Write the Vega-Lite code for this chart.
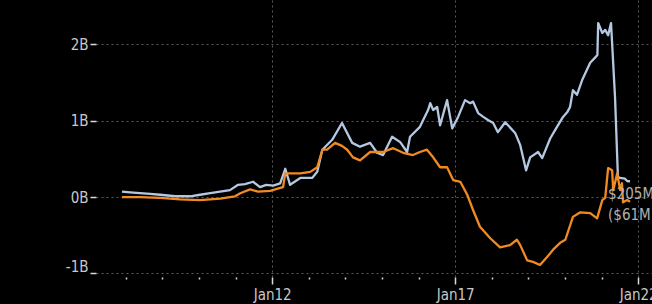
{
  "$schema": "https://vega.github.io/schema/vega-lite/v6.json",
  "width": 556,
  "height": 277,
  "autosize": {"type": "none"},
  "padding": {"left": 96, "top": 0, "right": 0, "bottom": 27},
  "background": "#000000",
  "config": {
    "view": {"stroke": null},
    "axis": {
      "labelFont": "DejaVu Sans Condensed",
      "labelFontSize": 15,
      "labelColor": "#c8c8c8",
      "domain": false,
      "gridColor": "#5a5a5a",
      "gridDash": [2, 3],
      "gridWidth": 1,
      "tickColor": "#d8d8d8",
      "title": null
    }
  },
  "datasets": {
    "series": [
      {"date": "2007-11-24", "series": "Total", "value": 0.07},
      {"date": "2008-02-14", "series": "Total", "value": 0.06},
      {"date": "2008-05-22", "series": "Total", "value": 0.05},
      {"date": "2008-09-01", "series": "Total", "value": 0.04},
      {"date": "2008-12-09", "series": "Total", "value": 0.03},
      {"date": "2009-05-08", "series": "Total", "value": 0.01},
      {"date": "2009-10-05", "series": "Total", "value": 0.01},
      {"date": "2010-01-12", "series": "Total", "value": 0.03},
      {"date": "2010-04-23", "series": "Total", "value": 0.05},
      {"date": "2010-07-31", "series": "Total", "value": 0.07},
      {"date": "2010-11-06", "series": "Total", "value": 0.09},
      {"date": "2011-01-26", "series": "Total", "value": 0.16},
      {"date": "2011-04-05", "series": "Total", "value": 0.17},
      {"date": "2011-06-25", "series": "Total", "value": 0.2},
      {"date": "2011-09-02", "series": "Total", "value": 0.13},
      {"date": "2011-11-03", "series": "Total", "value": 0.16},
      {"date": "2012-01-12", "series": "Total", "value": 0.15},
      {"date": "2012-03-21", "series": "Total", "value": 0.18},
      {"date": "2012-05-11", "series": "Total", "value": 0.37},
      {"date": "2012-06-28", "series": "Total", "value": 0.16},
      {"date": "2012-10-08", "series": "Total", "value": 0.25},
      {"date": "2013-02-03", "series": "Total", "value": 0.25},
      {"date": "2013-03-26", "series": "Total", "value": 0.33},
      {"date": "2013-05-16", "series": "Total", "value": 0.62},
      {"date": "2013-08-22", "series": "Total", "value": 0.75},
      {"date": "2013-11-28", "series": "Total", "value": 0.97},
      {"date": "2014-03-10", "series": "Total", "value": 0.71},
      {"date": "2014-05-27", "series": "Total", "value": 0.66},
      {"date": "2014-09-05", "series": "Total", "value": 0.71},
      {"date": "2014-11-13", "series": "Total", "value": 0.58},
      {"date": "2015-01-12", "series": "Total", "value": 0.55},
      {"date": "2015-04-12", "series": "Total", "value": 0.79},
      {"date": "2015-07-02", "series": "Total", "value": 0.72},
      {"date": "2015-09-09", "series": "Total", "value": 0.59},
      {"date": "2015-10-08", "series": "Total", "value": 0.79},
      {"date": "2016-01-15", "series": "Total", "value": 0.92},
      {"date": "2016-04-05", "series": "Total", "value": 1.14},
      {"date": "2016-04-27", "series": "Total", "value": 1.23},
      {"date": "2016-05-26", "series": "Total", "value": 1.14},
      {"date": "2016-07-05", "series": "Total", "value": 1.18},
      {"date": "2016-08-03", "series": "Total", "value": 0.94},
      {"date": "2016-10-12", "series": "Total", "value": 1.27},
      {"date": "2016-12-02", "series": "Total", "value": 0.9},
      {"date": "2017-01-30", "series": "Total", "value": 1.05},
      {"date": "2017-04-09", "series": "Total", "value": 1.27},
      {"date": "2017-05-30", "series": "Total", "value": 1.23},
      {"date": "2017-06-28", "series": "Total", "value": 1.25},
      {"date": "2017-08-18", "series": "Total", "value": 1.1},
      {"date": "2017-10-08", "series": "Total", "value": 1.05},
      {"date": "2017-11-24", "series": "Total", "value": 1.01},
      {"date": "2018-01-15", "series": "Total", "value": 0.97},
      {"date": "2018-03-03", "series": "Total", "value": 0.85},
      {"date": "2018-05-15", "series": "Total", "value": 0.98},
      {"date": "2018-08-22", "series": "Total", "value": 0.84},
      {"date": "2018-10-12", "series": "Total", "value": 0.68},
      {"date": "2018-12-09", "series": "Total", "value": 0.35},
      {"date": "2019-01-19", "series": "Total", "value": 0.52},
      {"date": "2019-04-08", "series": "Total", "value": 0.59},
      {"date": "2019-05-19", "series": "Total", "value": 0.51},
      {"date": "2019-08-08", "series": "Total", "value": 0.77},
      {"date": "2019-10-05", "series": "Total", "value": 0.9},
      {"date": "2019-12-13", "series": "Total", "value": 1.05},
      {"date": "2020-01-23", "series": "Total", "value": 1.11},
      {"date": "2020-02-21", "series": "Total", "value": 1.18},
      {"date": "2020-03-21", "series": "Total", "value": 1.4},
      {"date": "2020-04-30", "series": "Total", "value": 1.34},
      {"date": "2020-06-20", "series": "Total", "value": 1.53},
      {"date": "2020-09-09", "series": "Total", "value": 1.76},
      {"date": "2020-10-30", "series": "Total", "value": 1.83},
      {"date": "2020-11-20", "series": "Total", "value": 1.86},
      {"date": "2020-11-28", "series": "Total", "value": 2.28},
      {"date": "2021-01-08", "series": "Total", "value": 2.15},
      {"date": "2021-02-06", "series": "Total", "value": 2.19},
      {"date": "2021-03-07", "series": "Total", "value": 2.12},
      {"date": "2021-04-05", "series": "Total", "value": 2.28},
      {"date": "2021-05-15", "series": "Total", "value": 1.31},
      {"date": "2021-06-13", "series": "Total", "value": 0.26},
      {"date": "2021-07-05", "series": "Total", "value": 0.25},
      {"date": "2021-08-22", "series": "Total", "value": 0.24},
      {"date": "2021-09-13", "series": "Total", "value": 0.21},
      {"date": "2021-10-12", "series": "Total", "value": 0.205},
      {"date": "2007-11-24", "series": "Net", "value": 0.0},
      {"date": "2008-05-22", "series": "Net", "value": 0.0},
      {"date": "2008-12-09", "series": "Net", "value": -0.01},
      {"date": "2009-06-27", "series": "Net", "value": -0.03},
      {"date": "2010-01-12", "series": "Net", "value": -0.04},
      {"date": "2010-07-31", "series": "Net", "value": -0.02},
      {"date": "2010-12-27", "series": "Net", "value": 0.01},
      {"date": "2011-02-17", "series": "Net", "value": 0.05},
      {"date": "2011-05-26", "series": "Net", "value": 0.1},
      {"date": "2011-08-14", "series": "Net", "value": 0.07},
      {"date": "2011-12-13", "series": "Net", "value": 0.08},
      {"date": "2012-03-21", "series": "Net", "value": 0.12},
      {"date": "2012-04-19", "series": "Net", "value": 0.13},
      {"date": "2012-05-11", "series": "Net", "value": 0.31},
      {"date": "2012-10-08", "series": "Net", "value": 0.31},
      {"date": "2013-01-15", "series": "Net", "value": 0.33},
      {"date": "2013-03-26", "series": "Net", "value": 0.39},
      {"date": "2013-05-16", "series": "Net", "value": 0.62},
      {"date": "2013-07-02", "series": "Net", "value": 0.62},
      {"date": "2013-09-20", "series": "Net", "value": 0.71},
      {"date": "2013-11-28", "series": "Net", "value": 0.67},
      {"date": "2014-01-19", "series": "Net", "value": 0.62},
      {"date": "2014-03-18", "series": "Net", "value": 0.52},
      {"date": "2014-05-27", "series": "Net", "value": 0.48},
      {"date": "2014-09-05", "series": "Net", "value": 0.59},
      {"date": "2015-01-12", "series": "Net", "value": 0.59},
      {"date": "2015-04-23", "series": "Net", "value": 0.64},
      {"date": "2015-07-31", "series": "Net", "value": 0.58},
      {"date": "2015-11-06", "series": "Net", "value": 0.55},
      {"date": "2016-01-15", "series": "Net", "value": 0.59},
      {"date": "2016-03-25", "series": "Net", "value": 0.62},
      {"date": "2016-05-26", "series": "Net", "value": 0.52},
      {"date": "2016-08-03", "series": "Net", "value": 0.39},
      {"date": "2016-10-12", "series": "Net", "value": 0.39},
      {"date": "2016-12-13", "series": "Net", "value": 0.22},
      {"date": "2017-02-21", "series": "Net", "value": 0.2},
      {"date": "2017-05-01", "series": "Net", "value": 0.03},
      {"date": "2017-06-28", "series": "Net", "value": -0.17},
      {"date": "2017-09-05", "series": "Net", "value": -0.39},
      {"date": "2017-12-17", "series": "Net", "value": -0.54},
      {"date": "2018-03-25", "series": "Net", "value": -0.66},
      {"date": "2018-07-02", "series": "Net", "value": -0.63},
      {"date": "2018-09-09", "series": "Net", "value": -0.56},
      {"date": "2018-10-12", "series": "Net", "value": -0.63},
      {"date": "2018-12-20", "series": "Net", "value": -0.83},
      {"date": "2019-02-17", "series": "Net", "value": -0.85},
      {"date": "2019-04-27", "series": "Net", "value": -0.89},
      {"date": "2019-07-05", "series": "Net", "value": -0.79},
      {"date": "2019-09-05", "series": "Net", "value": -0.69},
      {"date": "2019-11-14", "series": "Net", "value": -0.6},
      {"date": "2020-01-05", "series": "Net", "value": -0.56},
      {"date": "2020-03-21", "series": "Net", "value": -0.26},
      {"date": "2020-06-03", "series": "Net", "value": -0.2},
      {"date": "2020-09-09", "series": "Net", "value": -0.21},
      {"date": "2020-11-17", "series": "Net", "value": -0.28},
      {"date": "2021-01-08", "series": "Net", "value": -0.04},
      {"date": "2021-02-06", "series": "Net", "value": -0.01},
      {"date": "2021-03-07", "series": "Net", "value": 0.38},
      {"date": "2021-04-16", "series": "Net", "value": 0.35},
      {"date": "2021-04-27", "series": "Net", "value": 0.09},
      {"date": "2021-06-06", "series": "Net", "value": 0.31},
      {"date": "2021-07-05", "series": "Net", "value": 0.09},
      {"date": "2021-07-23", "series": "Net", "value": 0.18},
      {"date": "2021-08-03", "series": "Net", "value": -0.07},
      {"date": "2021-09-13", "series": "Net", "value": -0.04},
      {"date": "2021-10-12", "series": "Net", "value": -0.061}
    ],
    "labels": [
      {"date": "2021-10-12", "series": "Total", "value": 0.205, "label": "$205M"},
      {"date": "2021-10-12", "series": "Net", "value": -0.061, "label": "($61M)"}
    ]
  },
  "resolve": {"axis": {"x": "independent"}},
  "layer": [
    {
      "data": {"name": "series"},
      "mark": {"type": "line", "strokeWidth": 2.3, "strokeJoin": "round"},
      "encoding": {
        "x": {
          "field": "date",
          "type": "temporal",
          "scale": {"domain": [{"year": 2007, "month": 3, "date": 10}, {"year": 2022, "month": 5, "date": 19}]},
          "axis": {
            "orient": "bottom",
            "values": [
              {"year": 2012, "month": 1, "date": 1},
              {"year": 2017, "month": 1, "date": 1},
              {"year": 2022, "month": 1, "date": 1}
            ],
            "format": "Jan%y",
            "labelPadding": 3,
            "tickSize": 7,
            "tickWidth": 1.5,
            "grid": true,
            "labelFlush": false,
            "labelOverlap": false
          }
        },
        "y": {
          "field": "value",
          "type": "quantitative",
          "scale": {"domain": [-1.048, 2.582], "nice": false, "zero": false},
          "axis": {
            "values": [-1, 0, 1, 2],
            "labelExpr": "datum.value + 'B'",
            "tickSize": 6,
            "tickWidth": 1.5,
            "labelPadding": 2,
            "labelOffset": {"condition": {"test": "datum.value == -1", "value": -7}, "value": 0},
            "grid": true
          }
        },
        "color": {
          "field": "series",
          "type": "nominal",
          "scale": {"domain": ["Total", "Net"], "range": ["#b4c8e2", "#f28a22"]},
          "legend": null
        }
      }
    },
    {
      "data": {"name": "labels"},
      "mark": {"type": "text", "align": "left", "baseline": "middle", "dx": -22, "dy": 13, "font": "DejaVu Sans Condensed", "fontSize": 15, "color": "#b0b0b0"},
      "encoding": {
        "x": {
          "field": "date",
          "type": "temporal",
          "axis": {
            "orient": "bottom",
            "values": [
              {"year": 2008, "month": 1, "date": 1}, {"year": 2009, "month": 1, "date": 1},
              {"year": 2010, "month": 1, "date": 1}, {"year": 2011, "month": 1, "date": 1},
              {"year": 2013, "month": 1, "date": 1}, {"year": 2014, "month": 1, "date": 1},
              {"year": 2015, "month": 1, "date": 1}, {"year": 2016, "month": 1, "date": 1},
              {"year": 2018, "month": 1, "date": 1}, {"year": 2019, "month": 1, "date": 1},
              {"year": 2020, "month": 1, "date": 1}, {"year": 2021, "month": 1, "date": 1}
            ],
            "labels": false,
            "grid": false,
            "tickSize": 2,
            "tickWidth": 1.5
          }
        },
        "y": {"field": "value", "type": "quantitative"},
        "text": {"field": "label"}
      }
    }
  ]
}
